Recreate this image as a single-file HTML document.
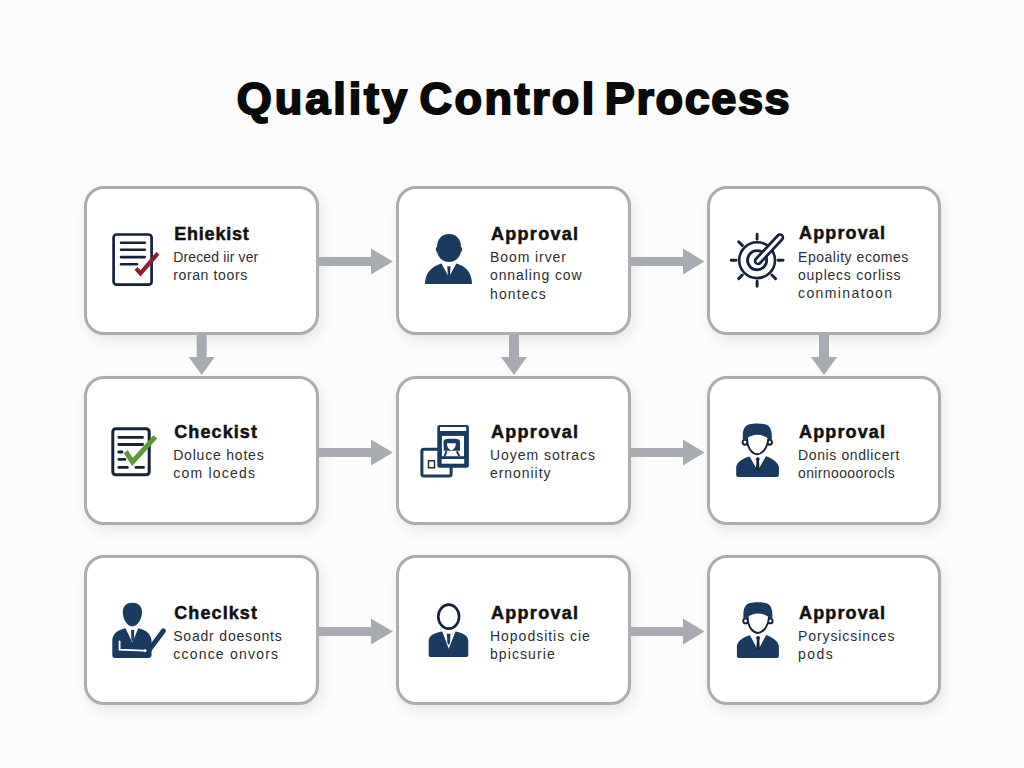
<!DOCTYPE html>
<html><head><meta charset="utf-8"><style>
html,body{margin:0;padding:0;}
body{width:1024px;height:768px;overflow:hidden;background:#fcfcfc;position:relative;font-family:"Liberation Sans",sans-serif;}
.box{position:absolute;box-sizing:border-box;border:3px solid #adadad;border-radius:20px;background:#ffffff;box-shadow:3px 6px 14px rgba(0,0,0,0.085);}
svg.ov{position:absolute;left:0;top:0;}
.t{position:absolute;font-weight:bold;font-size:18px;line-height:20px;color:#111;-webkit-text-stroke:0.5px #111;white-space:nowrap;}
.d{position:absolute;font-size:14px;line-height:18px;color:#2e2e2e;white-space:nowrap;}
.h1{position:absolute;font-weight:bold;font-size:45px;line-height:50px;-webkit-text-stroke:2px #0a0a0a;color:#0a0a0a;white-space:nowrap;}
</style></head><body>
<div class="h1" style="top:74px;left:236.7px;letter-spacing:2.98px">Quality</div><div class="h1" style="top:74px;left:419.5px;letter-spacing:2.48px">Control</div><div class="h1" style="top:74px;left:604.8px;letter-spacing:1.62px">Process</div>
<div class="box" style="left:84px;top:186px;width:235px;height:148.5px"></div>
<div class="box" style="left:396px;top:186px;width:235px;height:148.5px"></div>
<div class="box" style="left:707px;top:186px;width:234px;height:148.5px"></div>
<div class="box" style="left:84px;top:376px;width:235px;height:148.5px"></div>
<div class="box" style="left:396px;top:376px;width:235px;height:148.5px"></div>
<div class="box" style="left:707px;top:376px;width:234px;height:148.5px"></div>
<div class="box" style="left:84px;top:555px;width:235px;height:149.5px"></div>
<div class="box" style="left:396px;top:555px;width:235px;height:149.5px"></div>
<div class="box" style="left:707px;top:555px;width:234px;height:149.5px"></div>
<svg class="ov" width="1024" height="768" viewBox="0 0 1024 768">
<path d="M319 256.9H371V248.5L393 261.5L371 274.5V266.1H319Z" fill="#a8abb1"/>
<path d="M631 256.9H683V248.5L704.5 261.5L683 274.5V266.1H631Z" fill="#a8abb1"/>
<path d="M319 447.9H371V439.5L393 452.5L371 465.5V457.1H319Z" fill="#a8abb1"/>
<path d="M631 447.9H683V439.5L704.5 452.5L683 465.5V457.1H631Z" fill="#a8abb1"/>
<path d="M319 626.9H371V618.5L393 631.5L371 644.5V636.1H319Z" fill="#a8abb1"/>
<path d="M631 626.9H683V618.5L704.5 631.5L683 644.5V636.1H631Z" fill="#a8abb1"/>
<path d="M196.7 334.5V357H188.7L201.7 375L214.7 357H206.7V334.5Z" fill="#a8abb1"/>
<path d="M509 334.5V357H501L514 375L527 357H519V334.5Z" fill="#a8abb1"/>
<path d="M819 334.5V357H811L824 375L837 357H829V334.5Z" fill="#a8abb1"/>
<g fill="none" stroke="#15223a" stroke-linecap="round">
<rect x="113.6" y="234.5" width="38" height="50.2" rx="3" stroke-width="2.7" fill="#fff"/>
<path d="M121 242.8H144.8M121 249.8H144.8M121 257.1H144.8M121 264.2H137" stroke-width="2.6"/>
</g>
<path d="M136 268.3L140.5 273.3L157.9 253.3" fill="none" stroke="#8c1f2f" stroke-width="4.2" stroke-linecap="butt" stroke-linejoin="miter"/>
<g fill="#1a3a5f">
<path d="M449 234 C457 234 461 240 461 247 C462.5 247.5 462.5 251 461 252 C459.5 258 455 262 449 262 C443 262 438.5 258 437 252 C435.5 251 435.5 247.5 437 247 C437 240 441 234 449 234Z"/>
<path d="M441.5 263.5 L448.9 277.2 L456.3 263.5 C466 266 472 273 472 284 H425 C425 273 432 266 441.5 263.5Z"/>
<path d="M447.3 266.3H450.5L450 276L448.9 277.5L447.8 276Z"/>
</g>
<g fill="none" stroke="#15223a" stroke-linecap="round">
<circle cx="757.1" cy="260.2" r="17.9" stroke-width="2.6"/>
<circle cx="757.1" cy="260.2" r="9.6" stroke-width="2.8"/>
<path d="M757.1 239.2L757.1 234.2 M742.3 245.4L738.7 241.8 M736.1 260.2L731.1 260.2 M742.3 275.0L738.7 278.6 M757.1 281.2L757.1 286.2 M771.9 275.0L775.5 278.6 M778.1 260.2L783.1 260.2" stroke-width="2.9"/>
<path d="M758 261 L780 237.5" stroke-width="8.5"/>
<path d="M758 261 L780 237.5" stroke="#fff" stroke-width="3.2"/>
</g>
<g fill="none" stroke="#15223a" stroke-linecap="round">
<rect x="112.8" y="428.7" width="36.4" height="46.1" rx="3" stroke-width="3" fill="#fff"/>
<path d="M118.8 437.3H142.6M118.8 444.5H142.6M118.8 452H122M118.8 459.3H125M118.8 467.4H127.4M135.9 467.4H143.5" stroke-width="2.8"/>
</g>
<path d="M125.7 451.7L132.5 461.9L155.3 436.9" fill="none" stroke="#5c9a37" stroke-width="5" stroke-linecap="butt"/>
<rect x="421.9" y="449.2" width="29.2" height="26.8" rx="2" fill="#fff" stroke="#1a3a5f" stroke-width="3"/>
<rect x="428.5" y="460.8" width="6" height="7" fill="none" stroke="#15223a" stroke-width="1.4"/>
<rect x="437.3" y="425" width="31.6" height="42.7" rx="2.5" fill="#1a3a5f"/>
<rect x="440" y="427" width="26.2" height="4" fill="#fff"/>
<rect x="441.9" y="435.9" width="22.1" height="20.3" fill="#fff"/>
<rect x="441.6" y="459" width="22.6" height="4.7" fill="#fff"/>
<path d="M443.5 441.5 C443.5 439.2 447 438.8 451.7 438.8 C456.4 438.8 460 439.2 460 441.5 V450.8 H443.8 Z" fill="#1a3a5f"/>
<path d="M447 443.2 H455.8 C455.8 447 454 449.8 451.4 450.2 C448.8 449.8 447 447 447 443.2Z" fill="#fff"/>
<path d="M446.5 451.2 L444.6 456.2 M456.8 451.2 L459.4 456.2" stroke="#1a3a5f" stroke-width="2"/>

<path d="M749.5 456.5 L757.8 470.8 L765.8 456.2 C771.9 458.2 777.9 462.0 778.9 467.0 V474.9 Q778.9 476.9 776.9 476.9 H738.2 Q736.2 476.9 736.2 474.9 V467.0 C737.2 462.0 742.2 458.5 749.5 456.5Z" fill="#1a3a5f"/><circle cx="757.8" cy="459.1" r="1.9" fill="#15223a"/><path d="M756.5 460.0H759.0L759.5 469.3L757.8 471.0L756.0 469.3Z" fill="#15223a"/><g transform="translate(0.00 0.00)">
<circle cx="745" cy="442.3" r="2.4" fill="#fff" stroke="#15223a" stroke-width="1.9"/>
<circle cx="769.6" cy="442.3" r="2.4" fill="#fff" stroke="#15223a" stroke-width="1.9"/>
<path d="M747.1 437.8 C747 444 748.5 448 751 450.8 C753 453 755 454.3 757.3 454.3 C759.6 454.3 761.6 453 763.6 450.8 C766.2 448 767.8 444 768.4 438.3" fill="#fff" stroke="#15223a" stroke-width="1.9"/>
<path d="M743 441 C742.3 433 743 427.5 747.5 425 C751.5 423 763 423 767 425 C771.5 427.5 772.3 433 771.6 441 L768.7 438.8 C765 436 761 434.7 757.3 434.7 C753.5 434.7 750 436 747.1 438.3 Z" fill="#1a3a5f"/>
</g>
<path d="M749.9 635.3 L758.1 650.3 L766.1 635.0 C771.9 637.0 777.9 640.8 778.9 645.8 V656.0 Q778.9 658.0 776.9 658.0 H738.9 Q736.9 658.0 736.9 656.0 V645.8 C737.9 640.8 742.9 637.3 749.9 635.3Z" fill="#1a3a5f"/><circle cx="758.1" cy="637.9" r="1.9" fill="#15223a"/><path d="M756.9 638.8H759.3L759.8 648.8L758.1 650.5L756.4 648.8Z" fill="#15223a"/><g transform="translate(0.60 178.70)">
<circle cx="745" cy="442.3" r="2.4" fill="#fff" stroke="#15223a" stroke-width="1.9"/>
<circle cx="769.6" cy="442.3" r="2.4" fill="#fff" stroke="#15223a" stroke-width="1.9"/>
<path d="M747.1 437.8 C747 444 748.5 448 751 450.8 C753 453 755 454.3 757.3 454.3 C759.6 454.3 761.6 453 763.6 450.8 C766.2 448 767.8 444 768.4 438.3" fill="#fff" stroke="#15223a" stroke-width="1.9"/>
<path d="M743 441 C742.3 433 743 427.5 747.5 425 C751.5 423 763 423 767 425 C771.5 427.5 772.3 433 771.6 441 L768.7 438.8 C765 436 761 434.7 757.3 434.7 C753.5 434.7 750 436 747.1 438.3 Z" fill="#1a3a5f"/>
</g>
<g fill="#1a3a5f">
<path d="M132.3 602.7 C138 602.7 142 606 142 612 C142 619 137.5 626.4 132.3 626.4 C127 626.4 122.8 619 122.8 612 C122.8 606 126.5 602.7 132.3 602.7Z"/>
<path d="M125.5 628.3 L132.3 642.4 L138.3 628.3 C145 630 150.5 633 151.5 640 V655 C151.5 657 150.5 658 148.5 658 H115 C113 658 112.3 657 112.3 655 V640 C113 633 118.5 630 125.5 628.3Z"/>
<path d="M131 630H134.2L133.8 640L132.6 641.5L131.4 640Z"/>
</g>
<path d="M148 651.5 L163.3 631" stroke="#1a3a5f" stroke-width="5" stroke-linecap="round"/>
<path d="M119.6 641.5 V649.7 L143.3 650.6" fill="none" stroke="#fff" stroke-width="1.8" stroke-linecap="round"/>
<circle cx="145" cy="650.6" r="1.6" fill="#fff"/>
<ellipse cx="448.7" cy="616.6" rx="10.4" ry="12" fill="#fff" stroke="#15223a" stroke-width="2.6"/>
<path d="M442.3 631.5 L448.7 648.8 L455.5 631.5 C462 633 468.3 635 468.3 641 V655 C468.3 656.5 467.5 657 466 657 H431 C429.5 657 428.7 656.5 428.7 655 V641 C428.7 635 435 633 442.3 631.5Z" fill="#1a3a5f"/>
<path d="M446.9 633.7H450.5L450 643L448.7 645L447.4 643Z" fill="#1a3a5f"/>
</svg>
<div class="t" style="left:174.2px;top:223.96px;letter-spacing:0.8px">Ehiekist</div>
<div class="d" style="left:173.2px;top:248.15px;letter-spacing:0.14px">Dreced iir ver</div>
<div class="d" style="left:173.2px;top:266.45px;letter-spacing:0.63px">roran toors</div>
<div class="t" style="left:491.0px;top:223.96px;letter-spacing:1.29px">Approval</div>
<div class="d" style="left:490.0px;top:248.15px;letter-spacing:0.92px">Boom irver</div>
<div class="d" style="left:490.0px;top:266.45px;letter-spacing:0.9px">onnaling cow</div>
<div class="d" style="left:490.0px;top:284.75px;letter-spacing:1.13px">hontecs</div>
<div class="t" style="left:799.0px;top:223.46px;letter-spacing:1.14px">Approval</div>
<div class="d" style="left:798.0px;top:247.65px;letter-spacing:0.54px">Epoality ecomes</div>
<div class="d" style="left:798.0px;top:265.95px;letter-spacing:0.76px">ouplecs corliss</div>
<div class="d" style="left:798.0px;top:284.25px;letter-spacing:1.39px">conminatoon</div>
<div class="t" style="left:174.2px;top:421.66px;letter-spacing:1.11px">Checkist</div>
<div class="d" style="left:173.2px;top:445.85px;letter-spacing:0.8px">Doluce hotes</div>
<div class="d" style="left:173.2px;top:464.15px;letter-spacing:1.23px">com loceds</div>
<div class="t" style="left:491.0px;top:421.76px;letter-spacing:1.29px">Approval</div>
<div class="d" style="left:490.0px;top:445.95px;letter-spacing:0.97px">Uoyem sotracs</div>
<div class="d" style="left:490.0px;top:464.25px;letter-spacing:0.95px">ernoniity</div>
<div class="t" style="left:799.0px;top:421.66px;letter-spacing:1.14px">Approval</div>
<div class="d" style="left:798.0px;top:445.85px;letter-spacing:0.62px">Donis ondlicert</div>
<div class="d" style="left:798.0px;top:464.15px;letter-spacing:0.38px">onirnoooorocls</div>
<div class="t" style="left:174.2px;top:602.76px;letter-spacing:1.11px">Checlkst</div>
<div class="d" style="left:173.2px;top:626.95px;letter-spacing:0.81px">Soadr doesonts</div>
<div class="d" style="left:173.2px;top:645.25px;letter-spacing:1.22px">cconce onvors</div>
<div class="t" style="left:491.0px;top:602.86px;letter-spacing:1.29px">Approval</div>
<div class="d" style="left:490.0px;top:627.05px;letter-spacing:0.98px">Hopodsitis cie</div>
<div class="d" style="left:490.0px;top:645.35px;letter-spacing:1.08px">bpicsurie</div>
<div class="t" style="left:799.0px;top:602.76px;letter-spacing:1.14px">Approval</div>
<div class="d" style="left:798.0px;top:626.95px;letter-spacing:0.91px">Porysicsinces</div>
<div class="d" style="left:798.0px;top:645.25px;letter-spacing:1.43px">pods</div>
</body></html>
